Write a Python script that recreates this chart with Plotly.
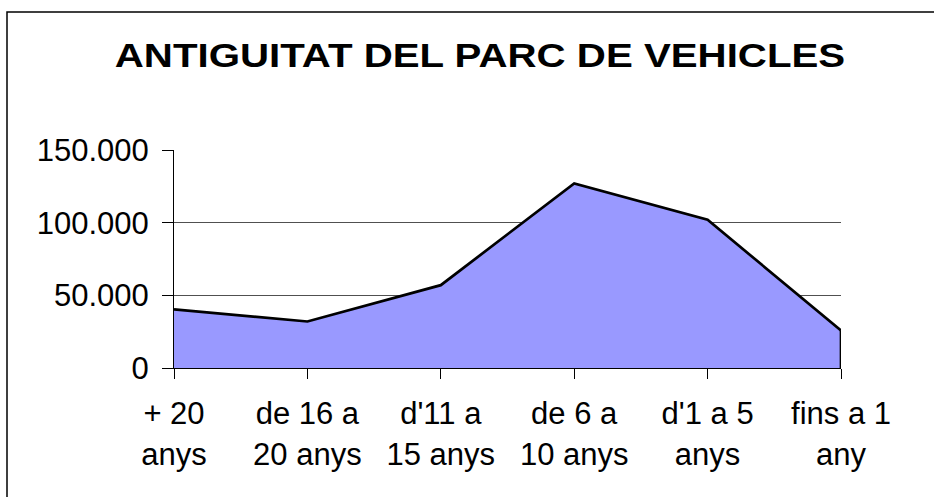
import plotly.graph_objects as go

categories = ["+ 20<br>anys", "de 16 a<br>20 anys", "d'11 a<br>15 anys",
              "de 6 a<br>10 anys", "d'1 a 5<br>anys", "fins a 1<br>any"]
values = [40400, 32000, 57000, 127000, 102000, 25800]
y_ticks = [0, 50000, 100000, 150000]
title_text = "ANTIGUITAT DEL PARC DE VEHICLES"

W, H = 934, 497
L, R, T, B = 174, 93, 150, 129
pw, ph = W - L - R, H - T - B

def px_x(p):
    return (p - L) / pw

def px_y(p):
    return (H - B - p) / ph

fig = go.Figure()
fig.add_trace(go.Scatter(
    x=categories, y=values, mode="lines", fill="tozeroy",
    fillcolor="#9999FF", line=dict(color="black", width=2.7),
    hoverinfo="x+y", showlegend=False))
# right edge of the area outline
fig.add_trace(go.Scatter(
    x=[categories[-1], categories[-1]], y=[0, values[-1]], mode="lines",
    line=dict(color="black", width=2.7), hoverinfo="skip", showlegend=False))

font = "Liberation Sans, Arial, sans-serif"
fig.update_layout(
    width=W, height=H,
    margin=dict(l=L, r=R, t=T, b=B, pad=0),
    paper_bgcolor="white", plot_bgcolor="white",
    separators=",.",
    font=dict(family=font, size=31, color="black"),
    title=dict(text="<b>" + title_text + "</b>", x=480 / W, xanchor="center",
               xref="container", yref="container", y=1 - 55 / H, yanchor="middle",
               font=dict(family=font, size=33, color="black")),
    xaxis=dict(type="category", range=[0, len(categories) - 1],
               showgrid=False, showline=True, linecolor="black", linewidth=1,
               ticks="outside", ticklen=10, tickcolor="black", tickwidth=1,
               tickfont=dict(size=31, color="black"), fixedrange=True,
               ticklabelstandoff=8),
    yaxis=dict(range=[0, 150000], tickvals=y_ticks, tickformat=",d",
               showgrid=True, gridcolor="#505050", gridwidth=1,
               showline=True, linecolor="black", linewidth=1, zeroline=False,
               ticks="outside", ticklen=11, tickcolor="black", tickwidth=1,
               tickfont=dict(size=31, color="black"), fixedrange=True,
               ticklabelstandoff=7),
    shapes=[dict(type="rect", xref="paper", yref="paper",
                 x0=px_x(7), x1=px_x(W + 20), y0=px_y(H + 20), y1=px_y(12),
                 line=dict(color="black", width=1.5), fillcolor="rgba(0,0,0,0)",
                 layer="above")],
)

post = """
document.body.style.margin = '0';
var t = document.querySelector('.g-gtitle .gtitle');
if (t) {
  var b = t.getBBox();
  var cx = b.x + b.width / 2;
  var s = 1.22;
  var old = t.getAttribute('transform') || '';
  t.setAttribute('transform', 'translate(' + cx + ',0) scale(' + s + ',1) translate(' + (-cx) + ',0) ' + old);
}
"""

fig.write_html("out.html", post_script=post, config={"displayModeBar": False})
